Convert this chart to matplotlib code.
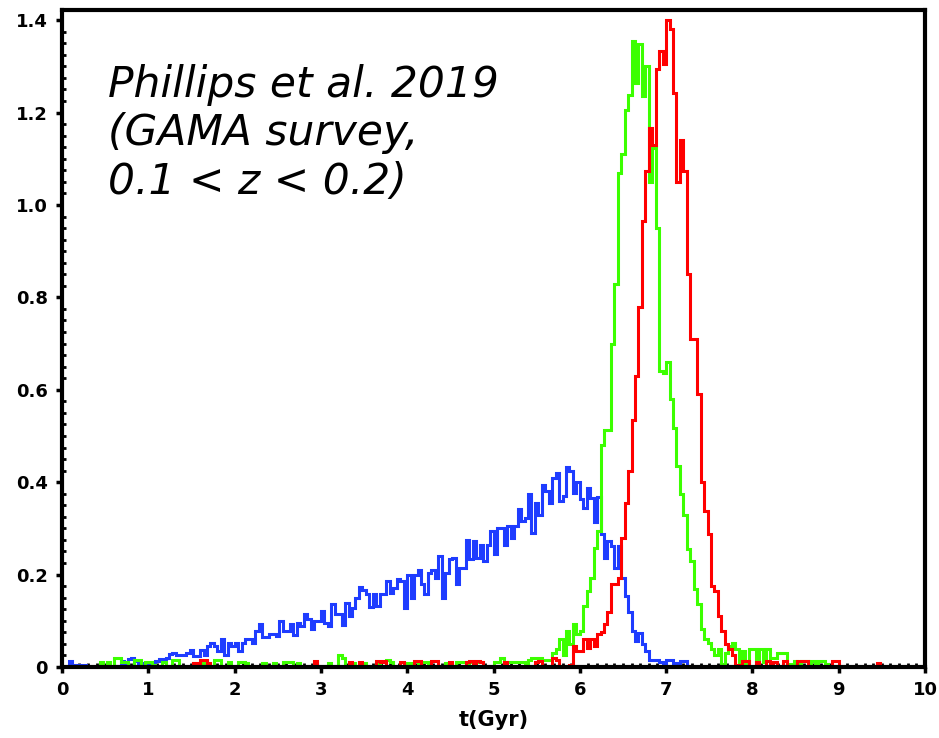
import numpy as np
import matplotlib
matplotlib.use("Agg")
import matplotlib.pyplot as plt
from matplotlib.ticker import MultipleLocator

# star-formation time histograms, 0.04 Gyr bins from t = 0 to 10 Gyr,
# one row of 25 bins per Gyr
BIN_WIDTH = 0.04

BLUE = [
    [0, 0, .012, .005, .003, .005, .005, 0, 0, 0, 0, 0, 0, 0, 0, 0, .003, .012, .005, .017, .02, .012, .005, .008, .008],
    [.008, .008, .012, .017, .017, .019, .028, .031, .025, .025, .025, .031, .036, .024, .024, .036, .025, .045, .053, .045, .035, .06, .027, .053, .045],
    [.053, .035, .053, .06, .06, .053, .078, .092, .065, .065, .072, .072, .067, .10, .078, .078, .092, .069, .096, .089, .114, .103, .082, .10, .10],
    [.121, .096, .089, .136, .114, .114, .09, .139, .11, .128, .15, .173, .166, .159, .13, .159, .132, .157, .157, .186, .16, .172, .19, .186, .128],
    [.20, .15, .20, .21, .179, .157, .204, .211, .193, .24, .15, .204, .233, .237, .18, .215, .215, .274, .233, .273, .237, .265, .23, .265, .294],
    [.245, .30, .30, .265, .305, .28, .305, .341, .316, .323, .374, .29, .356, .33, .395, .381, .356, .41, .42, .36, .37, .433, .424, .377, .40],
    [.363, .345, .388, .366, .313, .367, .287, .237, .273, .262, .215, .262, .193, .154, .12, .078, .056, .074, .049, .034, .016, .016, .016, .01, 0],
    [.016, .016, .009, .009, .013, .013, 0, 0, 0, 0, 0, 0, 0, 0, 0, 0, 0, 0, 0, 0, 0, 0, 0, 0, 0],
    [0, 0, 0, 0, 0, 0, 0, 0, 0, 0, 0, 0, 0, 0, 0, 0, 0, 0, 0, 0, 0, 0, 0, 0, 0],
    [0, 0, 0, 0, 0, 0, 0, 0, 0, 0, 0, 0, 0, 0, 0, 0, 0, 0, 0, 0, 0, 0, 0, 0, 0],
]

GREEN = [
    [0, 0, 0, 0, 0, 0, 0, 0, 0, 0, 0, .01, 0, .01, 0, .02, .02, .01, .01, 0, 0, .015, .015, 0, .01],
    [.01, .005, 0, 0, .01, 0, 0, .015, .015, 0, 0, 0, 0, .008, 0, .008, 0, 0, 0, .015, .015, 0, 0, .01, 0],
    [0, .01, .01, .008, 0, 0, 0, 0, .008, 0, 0, .008, 0, 0, .01, .01, .01, 0, .008, 0, 0, 0, 0, .01, 0],
    [0, 0, .008, 0, 0, .025, .02, 0, 0, .008, 0, 0, .008, 0, 0, 0, .008, 0, 0, .015, .01, 0, 0, 0, .008],
    [.008, 0, 0, .01, .01, .01, 0, 0, 0, 0, 0, .008, 0, 0, .01, .01, .01, 0, .01, .01, .01, .01, 0, 0, 0],
    [.01, .01, .02, .01, .01, .01, .01, .01, .01, .005, .015, .02, .02, .02, .015, .015, .015, .03, .04, .06, .027, .078, .049, .093, .071],
    [.078, .132, .164, .193, .258, .294, .48, .514, .514, .70, .83, 1.07, 1.11, 1.205, 1.238, 1.355, 1.265, 1.348, 1.236, 1.30, 1.05, 1.123, .95, .64, .637],
    [.66, .58, .518, .435, .374, .33, .255, .23, .168, .136, .082, .06, .053, .038, .027, .038, .006, .03, .045, .053, .04, .006, .035, .006, .038],
    [.038, .006, .038, .01, .038, .02, .02, .03, .03, .03, .006, .006, .013, .006, .013, .013, .006, .013, .006, .013, .013, .006, 0, 0, 0],
    [0, 0, 0, 0, 0, 0, 0, 0, 0, 0, 0, 0, 0, 0, 0, 0, 0, 0, 0, 0, 0, 0, 0, 0, 0],
]

RED = [
    [0, 0, 0, 0, 0, 0, 0, 0, 0, 0, 0, 0, 0, 0, 0, 0, 0, 0, 0, 0, 0, 0, 0, 0, 0],
    [0, 0, 0, 0, 0, 0, 0, 0, 0, 0, 0, 0, 0, .008, 0, .015, .015, .008, 0, 0, 0, 0, 0, 0, 0],
    [0, 0, 0, 0, 0, 0, 0, 0, 0, 0, 0, 0, 0, 0, 0, 0, 0, 0, 0, 0, 0, 0, 0, .013, 0],
    [0, 0, 0, 0, 0, 0, 0, 0, .01, 0, 0, .01, 0, 0, 0, 0, .012, .01, .012, 0, 0, 0, 0, .01, 0],
    [0, 0, .013, .013, 0, 0, 0, .013, .013, 0, 0, 0, .01, 0, 0, 0, 0, .01, .013, 0, .013, .01, 0, 0, 0],
    [0, 0, 0, .01, 0, 0, 0, 0, 0, 0, 0, 0, .01, .013, 0, 0, 0, .02, .016, 0, 0, 0, .005, .045, .035],
    [.035, .06, .042, .06, .045, .072, .075, .093, .118, .18, .18, .193, .28, .355, .424, .535, .63, .78, .965, 1.074, 1.167, 1.13, 1.294, 1.334, 1.306],
    [1.40, 1.38, 1.243, 1.05, 1.14, 1.074, .85, .709, .709, .59, .40, .338, .287, .175, .165, .11, .078, .05, .038, .027, .005, 0, .013, .013, 0],
    [0, .01, 0, 0, .013, 0, .01, 0, 0, .013, 0, 0, 0, .013, .013, .013, 0, 0, 0, 0, 0, 0, 0, .013, .013],
    [0, 0, 0, 0, 0, 0, 0, 0, 0, 0, 0, .008, 0, 0, 0, 0, 0, 0, 0, 0, 0, 0, 0, 0, 0],
]

SERIES = [(BLUE, "#1e3cff"), (GREEN, "#3cff00"), (RED, "#ff0000")]

Y_TICKS = [0, 0.2, 0.4, 0.6, 0.8, 1.0, 1.2, 1.4]
Y_TICK_LABELS = ["0", "0.2", "0.4", "0.6", "0.8", "1.0", "1.2", "1.4"]
X_TICKS = list(range(11))

fig = plt.figure(figsize=(9.39, 7.38), dpi=100)
ax = fig.add_axes([62 / 939, 1 - 667 / 738, 863 / 939, 657 / 738])

for rows, col in SERIES:
    vals = np.concatenate([np.asarray(r, float) for r in rows])
    edges = np.arange(len(vals) + 1) * BIN_WIDTH
    ax.stairs(vals, edges, color=col, lw=2.2, zorder=2)

ax.set_xlim(0, 10)
ax.set_ylim(0, 1.422)
ax.set_xticks(X_TICKS)
ax.set_xticklabels([str(v) for v in X_TICKS])
ax.set_yticks(Y_TICKS)
ax.set_yticklabels(Y_TICK_LABELS)
ax.xaxis.set_minor_locator(MultipleLocator(0.1))
ax.yaxis.set_minor_locator(MultipleLocator(0.025))

for s in ax.spines.values():
    s.set_linewidth(3)
    s.set_zorder(3)
ax.tick_params(which="major", direction="out", length=4, width=2.5,
               labelsize=13, pad=6)
ax.tick_params(which="minor", direction="in", length=3, width=2)
for lab in ax.get_xticklabels() + ax.get_yticklabels():
    lab.set_fontweight("bold")

ax.set_xlabel("t(Gyr)", fontsize=15, fontweight="bold", labelpad=8)

ax.text(0.053, 0.918, "Phillips et al. 2019\n(GAMA survey,\n0.1 < z < 0.2)",
        transform=ax.transAxes, fontsize=30.5, style="italic",
        ha="left", va="top", linespacing=1.2)

fig.savefig("out.png", dpi=100)
